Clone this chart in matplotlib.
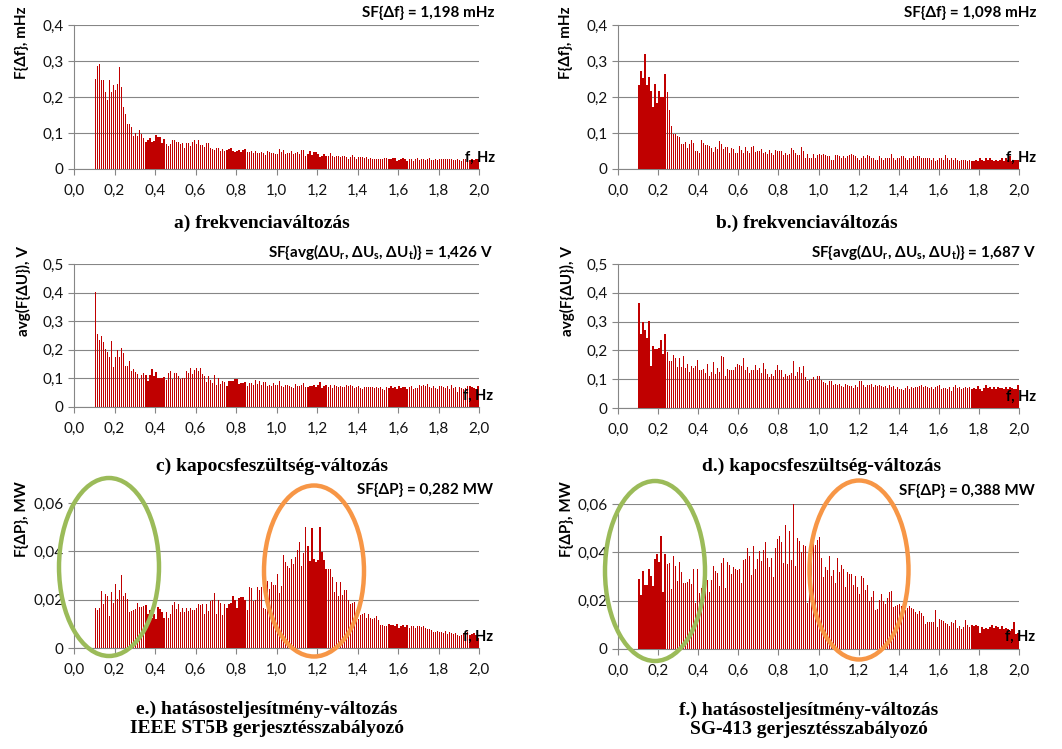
import numpy as np
import matplotlib
matplotlib.use("Agg")
import matplotlib.pyplot as plt
from matplotlib.patches import Ellipse
from matplotlib.ticker import FuncFormatter, MultipleLocator

# ---------------- data ----------------
# spectral lines every 0.01 Hz, from 0.11 Hz to 2.00 Hz
freq = np.round(np.arange(11, 201) * 0.01, 2)

# a) frequency deviation spectrum, IEEE ST5B  [mHz]
spec_a = [
    0.250, 0.287, 0.293, 0.248, 0.248, 0.213, 0.193, 0.248, 0.215, 0.232,
    0.220, 0.235, 0.282, 0.229, 0.173, 0.152, 0.126, 0.126, 0.118, 0.093,
    0.100, 0.093, 0.107, 0.098, 0.087, 0.076, 0.081, 0.087, 0.074, 0.078,
    0.095, 0.088, 0.090, 0.072, 0.084, 0.070, 0.065, 0.070, 0.080, 0.081,
    0.075, 0.075, 0.070, 0.072, 0.057, 0.073, 0.071, 0.065, 0.075, 0.080,
    0.070, 0.081, 0.067, 0.067, 0.061, 0.072, 0.072, 0.058, 0.056, 0.053,
    0.058, 0.058, 0.050, 0.056, 0.050, 0.053, 0.056, 0.058, 0.050, 0.047,
    0.050, 0.053, 0.047, 0.053, 0.056, 0.047, 0.047, 0.050, 0.044, 0.050,
    0.044, 0.044, 0.047, 0.044, 0.039, 0.050, 0.047, 0.044, 0.044, 0.042,
    0.042, 0.056, 0.047, 0.053, 0.042, 0.044, 0.044, 0.050, 0.042, 0.044,
    0.047, 0.042, 0.053, 0.053, 0.036, 0.042, 0.050, 0.039, 0.047, 0.047,
    0.042, 0.033, 0.036, 0.042, 0.036, 0.036, 0.044, 0.036, 0.033, 0.036,
    0.036, 0.033, 0.036, 0.036, 0.033, 0.028, 0.033, 0.039, 0.033, 0.028,
    0.033, 0.033, 0.033, 0.031, 0.033, 0.028, 0.031, 0.028, 0.028, 0.028,
    0.028, 0.028, 0.028, 0.031, 0.031, 0.028, 0.028, 0.031, 0.031, 0.022,
    0.025, 0.028, 0.031, 0.028, 0.022, 0.028, 0.028, 0.022, 0.028, 0.031,
    0.025, 0.028, 0.028, 0.025, 0.028, 0.031, 0.025, 0.025, 0.028, 0.025,
    0.028, 0.028, 0.028, 0.028, 0.028, 0.028, 0.028, 0.025, 0.025, 0.028,
    0.025, 0.022, 0.028, 0.028, 0.031, 0.025, 0.028, 0.025, 0.028, 0.028,
]

# b) frequency deviation spectrum, SG-413  [mHz]
spec_b = [
    0.233, 0.272, 0.252, 0.320, 0.233, 0.255, 0.216, 0.171, 0.236, 0.183,
    0.216, 0.200, 0.200, 0.264, 0.213, 0.164, 0.119, 0.096, 0.096, 0.091,
    0.088, 0.069, 0.069, 0.075, 0.058, 0.069, 0.081, 0.072, 0.051, 0.051,
    0.044, 0.081, 0.072, 0.066, 0.066, 0.063, 0.058, 0.047, 0.061, 0.055,
    0.079, 0.070, 0.055, 0.061, 0.061, 0.044, 0.058, 0.055, 0.044, 0.044,
    0.065, 0.053, 0.044, 0.062, 0.049, 0.044, 0.062, 0.065, 0.047, 0.050,
    0.050, 0.055, 0.044, 0.047, 0.041, 0.053, 0.044, 0.038, 0.053, 0.050,
    0.050, 0.050, 0.038, 0.044, 0.038, 0.041, 0.058, 0.053, 0.044, 0.038,
    0.038, 0.062, 0.050, 0.031, 0.042, 0.031, 0.030, 0.042, 0.031, 0.038,
    0.041, 0.038, 0.041, 0.038, 0.035, 0.035, 0.026, 0.026, 0.038, 0.038,
    0.035, 0.031, 0.035, 0.030, 0.035, 0.038, 0.042, 0.038, 0.035, 0.031,
    0.026, 0.031, 0.035, 0.031, 0.038, 0.035, 0.030, 0.031, 0.026, 0.026,
    0.035, 0.031, 0.026, 0.031, 0.030, 0.031, 0.041, 0.031, 0.026, 0.031,
    0.031, 0.035, 0.035, 0.031, 0.026, 0.031, 0.031, 0.035, 0.031, 0.035,
    0.035, 0.031, 0.031, 0.031, 0.030, 0.031, 0.026, 0.031, 0.022, 0.026,
    0.030, 0.031, 0.026, 0.038, 0.031, 0.026, 0.031, 0.026, 0.030, 0.026,
    0.022, 0.026, 0.026, 0.026, 0.022, 0.026, 0.022, 0.022, 0.026, 0.022,
    0.030, 0.026, 0.022, 0.031, 0.026, 0.030, 0.026, 0.022, 0.026, 0.022,
    0.026, 0.031, 0.022, 0.031, 0.026, 0.035, 0.022, 0.026, 0.026, 0.026,
]

# c) terminal voltage deviation spectrum, IEEE ST5B  [V]
spec_c = [
    0.403, 0.255, 0.233, 0.249, 0.226, 0.204, 0.193, 0.176, 0.232, 0.139,
    0.176, 0.200, 0.176, 0.207, 0.190, 0.142, 0.142, 0.162, 0.126, 0.133,
    0.124, 0.117, 0.097, 0.113, 0.119, 0.111, 0.092, 0.111, 0.134, 0.108,
    0.122, 0.103, 0.103, 0.103, 0.106, 0.094, 0.119, 0.127, 0.098, 0.119,
    0.119, 0.110, 0.099, 0.103, 0.103, 0.127, 0.120, 0.138, 0.115, 0.131,
    0.135, 0.127, 0.138, 0.117, 0.110, 0.087, 0.110, 0.094, 0.084, 0.112,
    0.077, 0.101, 0.080, 0.090, 0.087, 0.073, 0.092, 0.092, 0.092, 0.098,
    0.099, 0.080, 0.084, 0.084, 0.087, 0.073, 0.084, 0.084, 0.077, 0.094,
    0.080, 0.092, 0.077, 0.087, 0.087, 0.073, 0.077, 0.073, 0.084, 0.078,
    0.077, 0.092, 0.073, 0.070, 0.077, 0.077, 0.073, 0.070, 0.066, 0.080,
    0.073, 0.073, 0.077, 0.084, 0.070, 0.070, 0.073, 0.073, 0.077, 0.070,
    0.077, 0.086, 0.066, 0.073, 0.077, 0.070, 0.077, 0.066, 0.077, 0.072,
    0.070, 0.073, 0.070, 0.070, 0.077, 0.073, 0.077, 0.073, 0.066, 0.070,
    0.073, 0.066, 0.063, 0.070, 0.070, 0.070, 0.070, 0.070, 0.066, 0.070,
    0.066, 0.070, 0.063, 0.059, 0.070, 0.066, 0.073, 0.066, 0.070, 0.063,
    0.073, 0.066, 0.070, 0.070, 0.063, 0.070, 0.073, 0.063, 0.066, 0.066,
    0.077, 0.073, 0.077, 0.073, 0.080, 0.070, 0.066, 0.073, 0.066, 0.063,
    0.073, 0.073, 0.070, 0.066, 0.073, 0.063, 0.077, 0.066, 0.070, 0.052,
    0.070, 0.066, 0.063, 0.066, 0.073, 0.073, 0.070, 0.066, 0.063, 0.073,
]

# d) terminal voltage deviation spectrum, SG-413  [V]
spec_d = [
    0.366, 0.257, 0.299, 0.272, 0.244, 0.303, 0.147, 0.216, 0.206, 0.206,
    0.209, 0.237, 0.189, 0.257, 0.196, 0.164, 0.164, 0.185, 0.175, 0.144,
    0.175, 0.142, 0.182, 0.139, 0.154, 0.126, 0.147, 0.139, 0.147, 0.168,
    0.133, 0.133, 0.137, 0.122, 0.154, 0.112, 0.126, 0.161, 0.119, 0.139,
    0.126, 0.182, 0.178, 0.112, 0.137, 0.131, 0.133, 0.133, 0.144, 0.154,
    0.150, 0.147, 0.175, 0.133, 0.144, 0.122, 0.133, 0.133, 0.150, 0.133,
    0.140, 0.122, 0.156, 0.137, 0.117, 0.109, 0.119, 0.112, 0.133, 0.150,
    0.131, 0.133, 0.106, 0.119, 0.112, 0.115, 0.122, 0.164, 0.110, 0.125,
    0.144, 0.122, 0.147, 0.109, 0.094, 0.098, 0.100, 0.109, 0.098, 0.112,
    0.112, 0.098, 0.090, 0.087, 0.080, 0.094, 0.094, 0.080, 0.083, 0.080,
    0.085, 0.076, 0.073, 0.083, 0.080, 0.076, 0.076, 0.069, 0.080, 0.073,
    0.094, 0.094, 0.080, 0.073, 0.080, 0.080, 0.083, 0.073, 0.080, 0.076,
    0.080, 0.076, 0.073, 0.076, 0.069, 0.080, 0.073, 0.076, 0.066, 0.073,
    0.065, 0.067, 0.064, 0.069, 0.076, 0.066, 0.073, 0.069, 0.073, 0.073,
    0.076, 0.080, 0.073, 0.076, 0.073, 0.069, 0.073, 0.066, 0.073, 0.076,
    0.080, 0.066, 0.069, 0.069, 0.066, 0.073, 0.059, 0.073, 0.080, 0.069,
    0.073, 0.066, 0.069, 0.073, 0.069, 0.073, 0.066, 0.069, 0.066, 0.076,
    0.066, 0.059, 0.069, 0.080, 0.069, 0.073, 0.066, 0.073, 0.066, 0.073,
    0.069, 0.069, 0.066, 0.073, 0.066, 0.073, 0.069, 0.066, 0.066, 0.080,
]

# e) active power deviation spectrum, IEEE ST5B  [MW]
spec_e = [
    0.0167, 0.0156, 0.0167, 0.0237, 0.0182, 0.0223, 0.0217, 0.0134, 0.0233, 0.0188,
    0.0265, 0.0204, 0.0241, 0.0303, 0.0214, 0.0228, 0.0201, 0.0149, 0.0153, 0.0157,
    0.0161, 0.0186, 0.0170, 0.0168, 0.0172, 0.0178, 0.0142, 0.0159, 0.0123, 0.0139,
    0.0121, 0.0170, 0.0161, 0.0150, 0.0123, 0.0149, 0.0124, 0.0142, 0.0178, 0.0189,
    0.0161, 0.0181, 0.0150, 0.0167, 0.0150, 0.0164, 0.0153, 0.0167, 0.0157, 0.0157,
    0.0164, 0.0182, 0.0179, 0.0181, 0.0142, 0.0181, 0.0153, 0.0196, 0.0197, 0.0228,
    0.0142, 0.0200, 0.0186, 0.0137, 0.0181, 0.0166, 0.0183, 0.0186, 0.0217, 0.0197,
    0.0164, 0.0208, 0.0211, 0.0211, 0.0197, 0.0159, 0.0254, 0.0247, 0.0193, 0.0197,
    0.0251, 0.0241, 0.0251, 0.0166, 0.0161, 0.0277, 0.0243, 0.0274, 0.0259, 0.0262,
    0.0305, 0.0228, 0.0257, 0.0386, 0.0356, 0.0340, 0.0330, 0.0368, 0.0349, 0.0378,
    0.0404, 0.0440, 0.0338, 0.0394, 0.0501, 0.0423, 0.0360, 0.0498, 0.0370, 0.0357,
    0.0366, 0.0501, 0.0399, 0.0366, 0.0328, 0.0328, 0.0328, 0.0292, 0.0232, 0.0273,
    0.0217, 0.0272, 0.0219, 0.0239, 0.0240, 0.0199, 0.0182, 0.0186, 0.0189, 0.0159,
    0.0121, 0.0135, 0.0142, 0.0145, 0.0123, 0.0142, 0.0124, 0.0121, 0.0126, 0.0134,
    0.0114, 0.0095, 0.0094, 0.0092, 0.0090, 0.0098, 0.0095, 0.0095, 0.0091, 0.0098,
    0.0081, 0.0090, 0.0095, 0.0088, 0.0095, 0.0084, 0.0091, 0.0090, 0.0084, 0.0091,
    0.0090, 0.0087, 0.0092, 0.0081, 0.0080, 0.0079, 0.0076, 0.0068, 0.0066, 0.0069,
    0.0066, 0.0068, 0.0062, 0.0070, 0.0058, 0.0068, 0.0062, 0.0058, 0.0062, 0.0054,
    0.0051, 0.0055, 0.0062, 0.0054, 0.0065, 0.0054, 0.0057, 0.0062, 0.0052, 0.0041,
]

# f) active power deviation spectrum, SG-413  [MW]
spec_f = [
    0.0290, 0.0224, 0.0324, 0.0264, 0.0264, 0.0330, 0.0303, 0.0261, 0.0372, 0.0394,
    0.0361, 0.0467, 0.0236, 0.0394, 0.0353, 0.0357, 0.0249, 0.0384, 0.0344, 0.0282,
    0.0361, 0.0319, 0.0274, 0.0274, 0.0278, 0.0290, 0.0270, 0.0333, 0.0191, 0.0332,
    0.0232, 0.0253, 0.0317, 0.0270, 0.0286, 0.0236, 0.0285, 0.0343, 0.0324, 0.0315,
    0.0261, 0.0354, 0.0377, 0.0253, 0.0358, 0.0346, 0.0311, 0.0340, 0.0332, 0.0328,
    0.0329, 0.0274, 0.0369, 0.0371, 0.0419, 0.0386, 0.0307, 0.0427, 0.0332, 0.0373,
    0.0406, 0.0365, 0.0411, 0.0444, 0.0377, 0.0340, 0.0377, 0.0299, 0.0419, 0.0455,
    0.0466, 0.0442, 0.0357, 0.0514, 0.0350, 0.0489, 0.0369, 0.0600, 0.0344, 0.0459,
    0.0448, 0.0402, 0.0430, 0.0427, 0.0192, 0.0340, 0.0386, 0.0465, 0.0429, 0.0449,
    0.0462, 0.0377, 0.0299, 0.0340, 0.0325, 0.0386, 0.0301, 0.0325, 0.0274, 0.0377,
    0.0319, 0.0348, 0.0332, 0.0257, 0.0319, 0.0312, 0.0310, 0.0265, 0.0301, 0.0257,
    0.0228, 0.0303, 0.0294, 0.0246, 0.0265, 0.0199, 0.0217, 0.0238, 0.0162, 0.0165,
    0.0203, 0.0227, 0.0200, 0.0187, 0.0212, 0.0234, 0.0238, 0.0174, 0.0177, 0.0181,
    0.0187, 0.0176, 0.0156, 0.0162, 0.0171, 0.0178, 0.0169, 0.0165, 0.0153, 0.0145,
    0.0158, 0.0151, 0.0137, 0.0105, 0.0113, 0.0111, 0.0112, 0.0112, 0.0162, 0.0090,
    0.0124, 0.0119, 0.0116, 0.0106, 0.0105, 0.0097, 0.0111, 0.0106, 0.0119, 0.0086,
    0.0097, 0.0082, 0.0093, 0.0119, 0.0098, 0.0090, 0.0098, 0.0095, 0.0098, 0.0097,
    0.0065, 0.0090, 0.0083, 0.0086, 0.0082, 0.0090, 0.0098, 0.0086, 0.0094, 0.0090,
    0.0083, 0.0094, 0.0083, 0.0086, 0.0083, 0.0075, 0.0082, 0.0111, 0.0062, 0.0068,
]

ylabels = ["F{Δf}, mHz", "F{Δf}, mHz", "avg(F{ΔU}), V", "avg(F{ΔU}), V",
           "F{ΔP}, MW", "F{ΔP}, MW"]
sf_texts = [
    "SF{Δf} = 1,198 mHz",
    "SF{Δf} = 1,098 mHz",
    r"SF{avg(ΔU$_\mathregular{r}$, ΔU$_\mathregular{s}$, ΔU$_\mathregular{t}$)} = 1,426 V",
    r"SF{avg(ΔU$_\mathregular{r}$, ΔU$_\mathregular{s}$, ΔU$_\mathregular{t}$)} = 1,687 V",
    "SF{ΔP} = 0,282 MW",
    "SF{ΔP} = 0,388 MW",
]
captions = [
    "a) frekvenciaváltozás",
    "b.) frekvenciaváltozás",
    "c) kapocsfeszültség-változás",
    "d.) kapocsfeszültség-változás",
    "e.) hatásosteljesítmény-változás\nIEEE ST5B gerjesztésszabályozó",
    "f.) hatásosteljesítmény-változás\nSG-413 gerjesztésszabályozó",
]
x_ticks = [0.0, 0.2, 0.4, 0.6, 0.8, 1.0, 1.2, 1.4, 1.6, 1.8, 2.0]

# ---------------- layout / style ----------------
W, H = 1062, 749
fig = plt.figure(figsize=(W / 100, H / 100), dpi=100)
fig.patch.set_facecolor("white")

SANS = ["Lato", "DejaVu Sans"]
SERIF = ["Liberation Serif", "DejaVu Serif"]
plt.rcParams["font.family"] = SANS
plt.rcParams["mathtext.default"] = "regular"

GRID = "#868686"
BAR = "#C00000"

def fx(x):
    return x / W

def fy(y):
    return 1 - y / H

panels = [
    dict(rect=(74, 25, 479, 169), vals=spec_a, ymax=0.4, ystep=0.1, dec=1,
         ylab=(22, 43), sf=(495, 13), fhz=(495, 158), cap=(262, 223)),
    dict(rect=(618, 25, 1019, 169), vals=spec_b, ymax=0.4, ystep=0.1, dec=1,
         ylab=(566, 43), sf=(1037, 13), fhz=(1036, 158), cap=(807, 223)),
    dict(rect=(74, 264, 479, 407), vals=spec_c, ymax=0.5, ystep=0.1, dec=1,
         ylab=(23, 291), sf=(493, 252), fhz=(493, 396), cap=(272, 466)),
    dict(rect=(618, 264, 1019, 408), vals=spec_d, ymax=0.5, ystep=0.1, dec=1,
         ylab=(567, 291), sf=(1036, 252), fhz=(1036, 397), cap=(822, 466)),
    dict(rect=(74, 503, 479, 648), vals=spec_e, ymax=0.06, ystep=0.02, dec=2,
         ylab=(22, 519), sf=(493, 490), fhz=(493, 637), cap=(267, 719)),
    dict(rect=(618, 504, 1019, 649), vals=spec_f, ymax=0.06, ystep=0.02, dec=2,
         ylab=(567, 519), sf=(1035, 491), fhz=(1035, 637), cap=(809, 720)),
]

for i, p in enumerate(panels):
    x0, y0, x1, y1 = p["rect"]
    ax = fig.add_axes([fx(x0), fy(y1), (x1 - x0) / W, (y1 - y0) / H])
    ax.bar(freq - 0.005, p["vals"], width=0.0062, color=BAR, linewidth=0,
           zorder=3)
    ax.set_xlim(0, 2.0)
    ax.set_ylim(0, p["ymax"])
    ax.set_xticks(x_ticks)
    ax.yaxis.set_major_locator(MultipleLocator(p["ystep"]))
    dec = p["dec"]
    ax.xaxis.set_major_formatter(
        FuncFormatter(lambda v, pos: f"{v:.1f}".replace(".", ",")))
    ax.yaxis.set_major_formatter(
        FuncFormatter(lambda v, pos, d=dec: "0" if abs(v) < 1e-9
                      else f"{v:.{d}f}".replace(".", ",")))
    for s in ("top", "right"):
        ax.spines[s].set_visible(False)
    for s in ("left", "bottom"):
        ax.spines[s].set_color(GRID)
        ax.spines[s].set_linewidth(0.8)
    ax.yaxis.grid(True, color=GRID, linewidth=0.8, zorder=0)
    ax.set_axisbelow(True)
    ax.tick_params(axis="both", direction="out", length=4.5, width=0.8,
                   color=GRID, labelsize=11, labelcolor="#111111")
    ax.tick_params(axis="x", pad=6)
    ax.tick_params(axis="y", pad=3)
    ax.patch.set_alpha(0)

    fig.text(fx(p["ylab"][0]), fy(p["ylab"][1]), ylabels[i], rotation=90,
             ha="center", va="center", fontsize=11, fontweight="bold")
    fig.text(fx(p["sf"][0]), fy(p["sf"][1]), sf_texts[i], ha="right",
             va="center", fontsize=11, fontweight="bold")
    fig.text(fx(p["fhz"][0]), fy(p["fhz"][1]), "f, Hz", ha="right",
             va="center", fontsize=10.5, fontweight="bold", zorder=10)
    fig.text(fx(p["cap"][0]), fy(p["cap"][1]), captions[i], ha="center",
             va="center", fontsize=14, fontweight="bold", family=SERIF,
             linespacing=1.2)

# highlight ellipses (pixel coordinates on an overlay)
ov = fig.add_axes([0, 0, 1, 1], zorder=20)
ov.set_xlim(0, W)
ov.set_ylim(H, 0)
ov.axis("off")
ov.patch.set_alpha(0)
ellipses = [
    ((109, 567), 100, 178, "#9BBB59"),
    ((314, 571), 100, 171, "#F79646"),
    ((655, 571), 100, 180, "#9BBB59"),
    ((859, 570), 99, 179, "#F79646"),
]
for (cx, cy), ew, eh, col in ellipses:
    ov.add_patch(Ellipse((cx, cy), ew, eh, fill=False, edgecolor=col,
                         linewidth=3.2))

fig.savefig("out.png", dpi=100)
